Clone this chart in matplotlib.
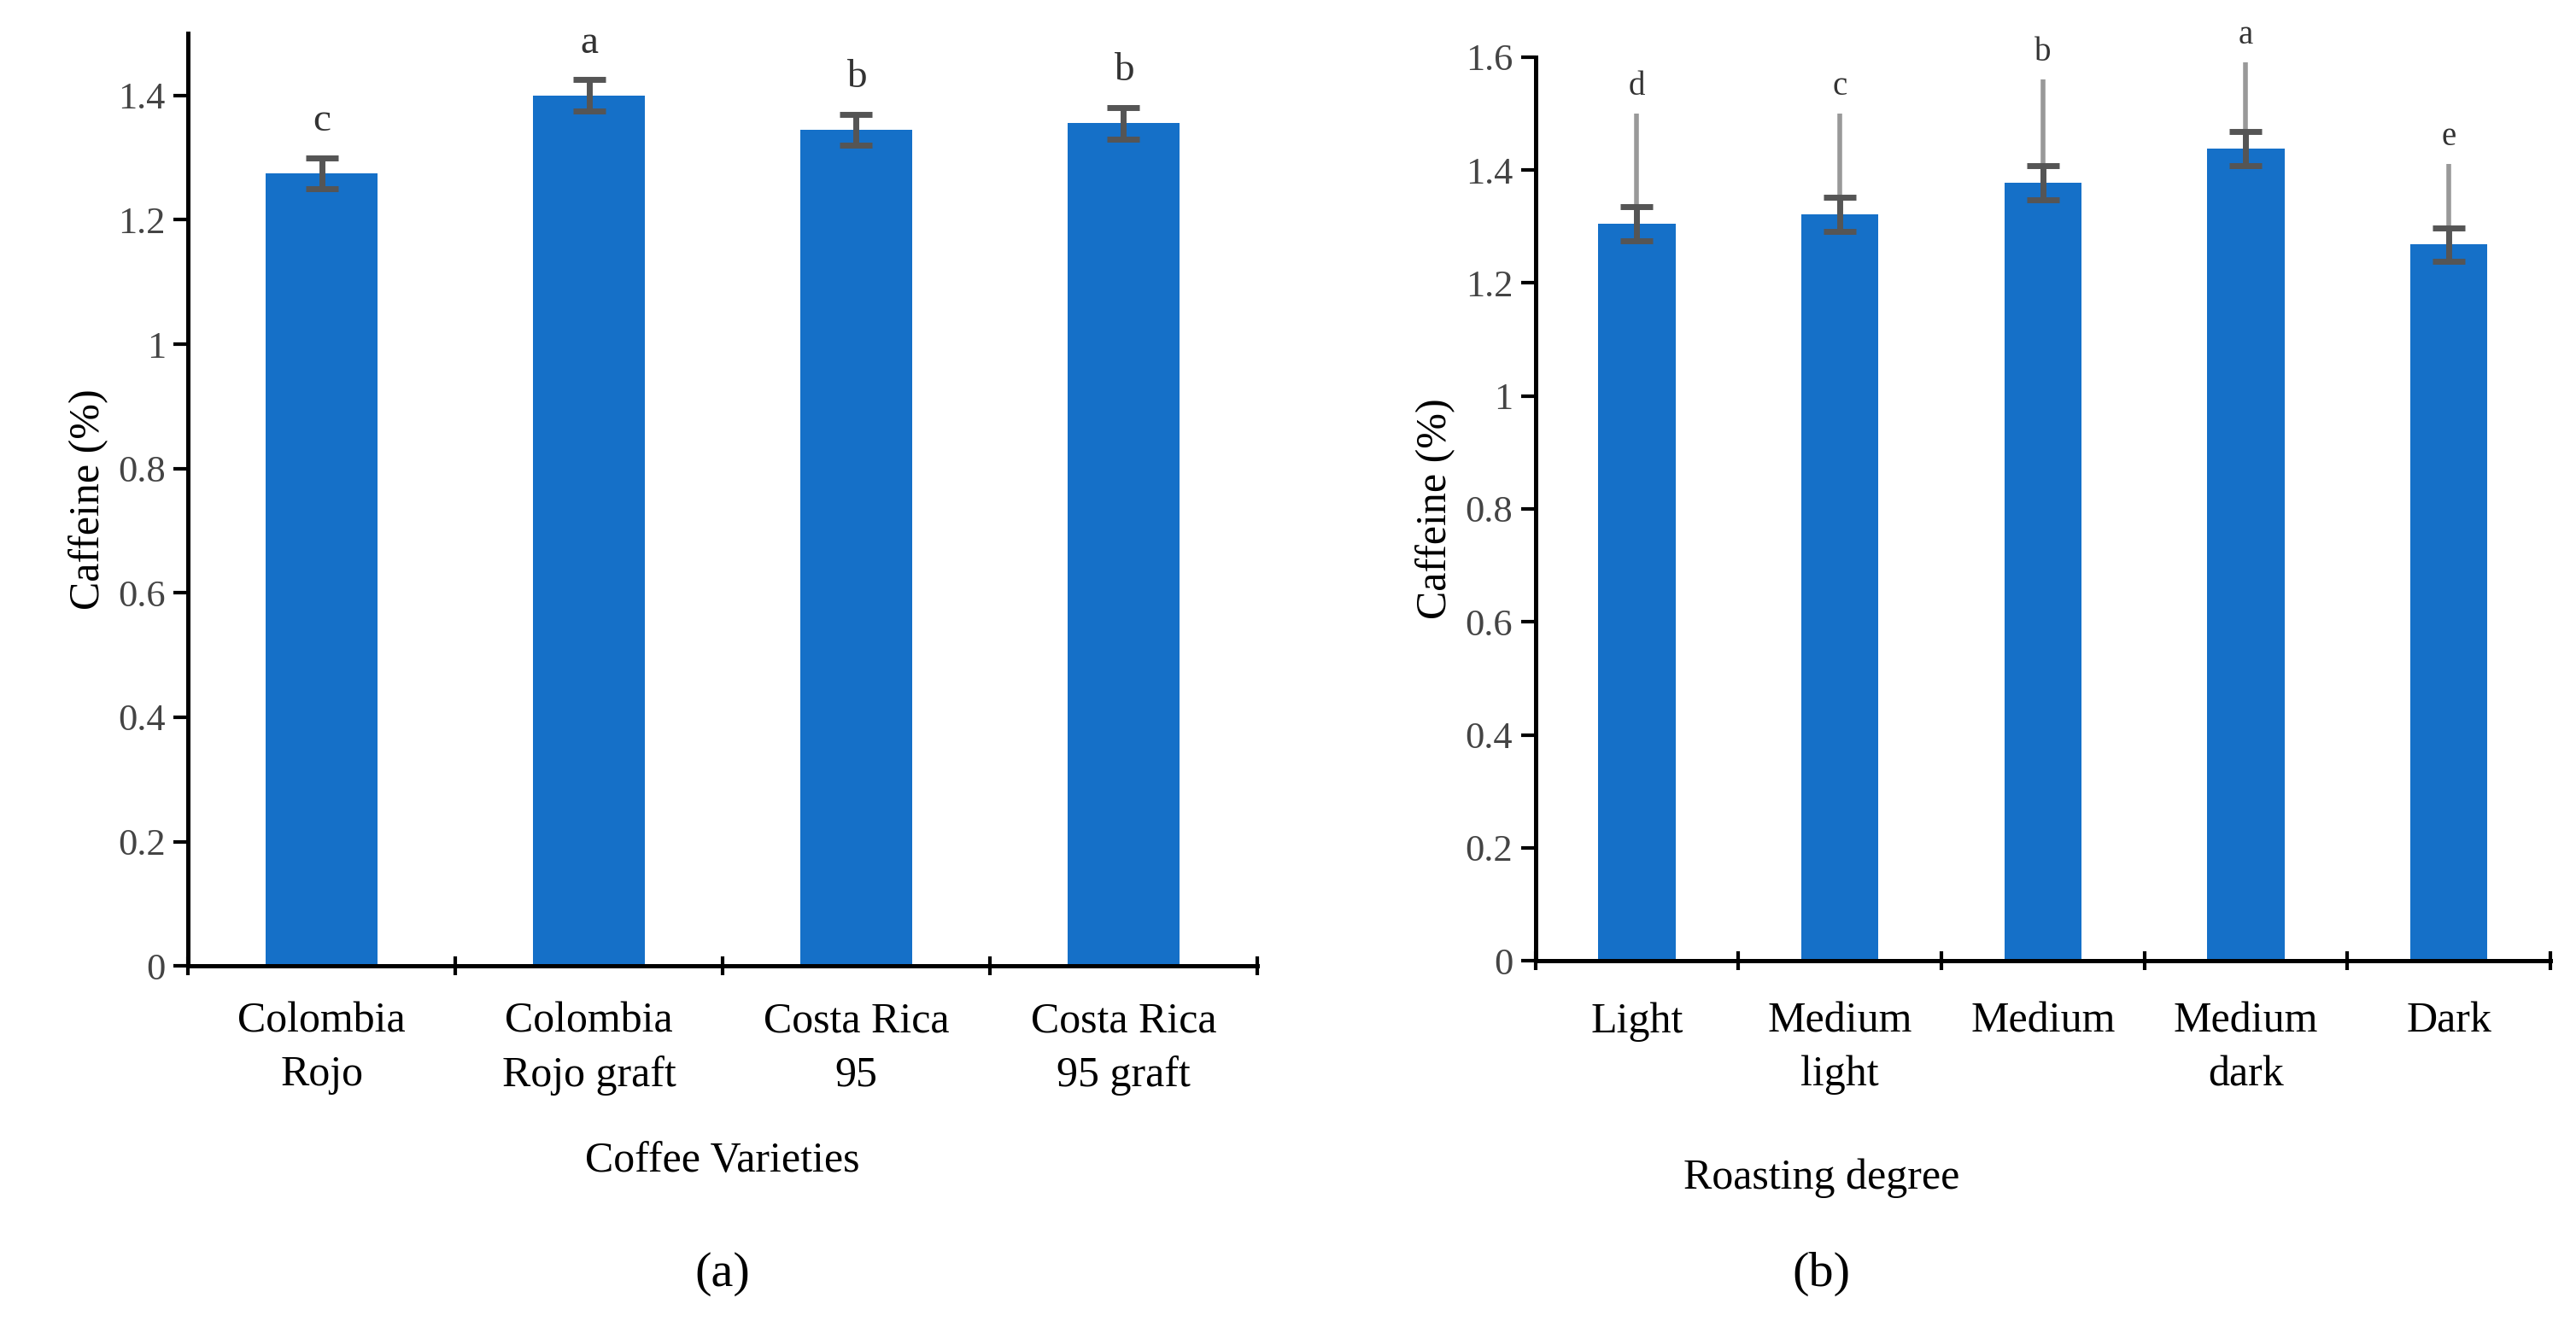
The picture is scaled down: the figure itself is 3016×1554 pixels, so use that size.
import numpy as np
import matplotlib.pyplot as plt

plt.rcParams['font.family'] = ['Liberation Serif', 'DejaVu Serif']

varieties = ['Colombia\nRojo', 'Colombia\nRojo graft', 'Costa Rica\n95', 'Costa Rica\n95 graft']
caf_a = [1.275, 1.400, 1.345, 1.355]
err_a = [0.025, 0.025, 0.025, 0.025]
let_a = ['c', 'a', 'b', 'b']

roasts = ['Light', 'Medium\nlight', 'Medium', 'Medium\ndark', 'Dark']
caf_b = [1.305, 1.322, 1.378, 1.438, 1.268]
err_b = [0.03, 0.03, 0.03, 0.03, 0.03]
grey_top = [1.50, 1.50, 1.56, 1.59, 1.41]
let_b = ['d', 'c', 'b', 'a', 'e']

blue = '#1570c8'
ecol = '#555555'
fs = 18

fig = plt.figure(figsize=(15.08, 7.77), dpi=200)
ax1 = fig.add_axes([0.073, 0.272, 0.415, 0.703])
ax2 = fig.add_axes([0.596, 0.276, 0.394, 0.681])


def style(ax, n, ymax, step):
    for s in ['top', 'right']:
        ax.spines[s].set_visible(False)
    for s in ['left', 'bottom']:
        ax.spines[s].set_linewidth(1.8)
    ax.set_xlim(-0.5, n - 0.5)
    ax.set_ylim(0, ymax)
    yt = np.arange(0, ymax + 1e-9, step)
    ax.set_yticks(yt)
    ax.set_yticklabels(['0' if v == 0 else ('%g' % round(v, 1)) for v in yt])
    ax.tick_params(axis='y', length=6, width=1.5, labelsize=fs - 2, labelcolor='#444444')
    ax.set_xticks(np.arange(n + 1) - 0.5)
    ax.set_xticklabels([''] * (n + 1))
    ax.tick_params(axis='x', length=8, width=1.5, direction='inout')
    ax.set_ylabel('Caffeine (%)', fontsize=fs)


def labels(ax, xs, labs, y0):
    for xi, lab in zip(xs, labs):
        xf = fig.transFigure.inverted().transform(ax.transData.transform((xi, 0)))[0]
        fig.text(xf, y0, lab, ha='center', va='top', fontsize=fs, linespacing=1.45)


x = np.arange(len(varieties))
ax1.bar(x, caf_a, 0.42, color=blue)
ax1.errorbar(x, caf_a, yerr=err_a, fmt='none', ecolor=ecol, elinewidth=2.5, capsize=7, capthick=2.5)
for i, l in enumerate(let_a):
    ax1.text(x[i], caf_a[i] + err_a[i] + 0.03, l, ha='center', va='bottom', fontsize=fs - 1, color='#333333')
style(ax1, len(varieties), 1.5, 0.2)
labels(ax1, x, varieties, 0.245)
fig.text(0.2805, 0.125, 'Coffee Varieties', ha='center', va='center', fontsize=fs)
fig.text(0.2805, 0.04, '(a)', ha='center', va='center', fontsize=fs + 3)

x = np.arange(len(roasts))
ax2.bar(x, caf_b, 0.38, color=blue)
ax2.vlines(x, caf_b, grey_top, color='#999999', lw=2)
ax2.errorbar(x, caf_b, yerr=err_b, fmt='none', ecolor=ecol, elinewidth=2.5, capsize=7, capthick=2.5)
for i, l in enumerate(let_b):
    ax2.text(x[i], grey_top[i] + 0.02, l, ha='center', va='bottom', fontsize=fs - 4, color='#333333', clip_on=False)
style(ax2, len(roasts), 1.6, 0.2)
labels(ax2, x, roasts, 0.245)
fig.text(0.707, 0.112, 'Roasting degree', ha='center', va='center', fontsize=fs)
fig.text(0.707, 0.04, '(b)', ha='center', va='center', fontsize=fs + 3)

fig.savefig('out.png', dpi=200, facecolor='white')
